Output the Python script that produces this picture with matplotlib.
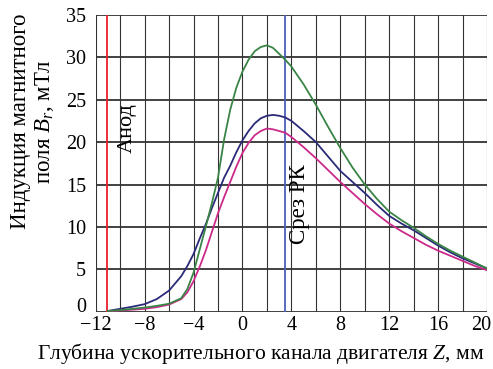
import os
import matplotlib.pyplot as plt
import matplotlib.transforms as mtransforms
from matplotlib import font_manager as fm
import numpy as np


def find_font(stem):
    for f in fm.fontManager.ttflist:
        if os.path.basename(f.fname).startswith(stem):
            return f.fname
    return None


serif_file = find_font('LiberationSerif-Regular')
if serif_file:
    serif_name = fm.FontProperties(fname=serif_file).get_name()
else:
    serif_name = 'DejaVu Serif'

plt.rcParams['font.family'] = [serif_name, 'DejaVu Serif']
plt.rcParams['mathtext.fontset'] = 'custom'
plt.rcParams['mathtext.rm'] = serif_name
plt.rcParams['mathtext.it'] = serif_name + ':italic'


def fp(size):
    if serif_file:
        return fm.FontProperties(fname=serif_file, size=size)
    return fm.FontProperties(family='DejaVu Serif', size=size)


# Z, mm
z = [-11, -10, -9, -8, -7, -6, -5, -4.5, -4, -3.5, -3, -2.5, -2, -1.5, -1, -0.5,
     0, 0.5, 1, 1.5, 2, 2.5, 3, 3.5, 4, 5, 6, 7, 8, 9, 10, 11, 12, 13, 14,
     15, 16, 17, 18, 19, 20]

# B_r, mT
b_green = [0.1, 0.2, 0.35, 0.5, 0.7, 0.95, 1.6, 2.7, 4.6, 7.3, 10.0, 12.8, 15.8,
           20.3, 23.8, 26.4, 28.3, 29.7, 30.7, 31.2, 31.4, 31.1, 30.4, 29.7,
           28.9, 26.8, 24.4, 21.8, 19.3, 17.0, 15.0, 13.3, 11.8, 10.8, 9.9,
           8.9, 8.0, 7.2, 6.5, 5.8, 5.1]
b_navy = [0.1, 0.35, 0.6, 0.9, 1.5, 2.5, 4.2, 5.4, 6.8, 8.6, 10.3, 12.2, 14.0,
          15.8, 17.2, 18.8, 20.2, 21.3, 22.2, 22.8, 23.1, 23.2, 23.1, 22.9,
          22.5, 21.3, 20.0, 18.3, 16.6, 15.3, 14.0, 12.6, 11.3, 10.4, 9.6,
          8.7, 7.8, 7.0, 6.3, 5.7, 5.1]
b_magenta = [0.05, 0.15, 0.25, 0.35, 0.55, 0.85, 1.5, 2.3, 3.6, 5.3, 7.2, 9.4,
             11.6, 13.5, 15.3, 17.1, 18.7, 19.9, 20.8, 21.3, 21.6, 21.5, 21.3,
             21.1, 20.6, 19.4, 18.1, 16.7, 15.3, 14.0, 12.7, 11.5, 10.4, 9.5,
             8.7, 7.9, 7.2, 6.6, 6.0, 5.4, 4.9]

z_anode = -11.1
z_cut = 3.5

xticks = [-12, -8, -4, 0, 4, 8, 12, 16, 20]
xtick_labels = ['\u221212', '\u22128', '\u22124', '0', '4', '8', '12', '16', '20']
yticks = [0, 5, 10, 15, 20, 25, 30, 35]
ytick_labels = ['0', '5', '10', '15', '20', '25', '30', '35']

fig = plt.figure(figsize=(4.93, 3.69), dpi=100)
ax = fig.add_axes([0.194, 0.155, 0.794, 0.805])

ax.set_xlim(-12, 20)
ax.set_ylim(0, 35)

# grid
for gx in np.arange(-12, 21, 2):
    ax.axvline(gx, color='#333333', lw=0.8, zorder=1)
for gy in yticks:
    ax.axhline(gy, color='#333333', lw=1.3, zorder=1)

ax.axvline(z_anode, color='#e8202a', lw=1.3, zorder=2)
ax.axvline(z_cut, color='#4a60b8', lw=1.3, zorder=2)

ax.plot(z, b_navy, color='#2b2a78', lw=1.3, zorder=3)
ax.plot(z, b_magenta, color='#cc2a8a', lw=1.3, zorder=3)
ax.plot(z, b_green, color='#3a8446', lw=1.3, zorder=4)

for s in ax.spines.values():
    s.set_visible(False)

ax.set_xticks(xticks)
ax.set_xticklabels(xtick_labels, fontproperties=fp(14.5))
ax.set_yticks(yticks)
ax.set_yticklabels(ytick_labels, fontproperties=fp(14.5))
ax.tick_params(length=0)
ax.tick_params(axis='x', pad=3)
ax.tick_params(axis='y', pad=7)


def shift(label, dx, dy):
    label.set_transform(label.get_transform() +
                        mtransforms.ScaledTranslation(dx / 100, dy / 100, fig.dpi_scale_trans))


# last x label sits a bit to the left, y "0" a bit higher
shift(ax.get_xticklabels()[-1], -6, 0)
shift(ax.get_yticklabels()[0], 0, 7)

ax.set_xlabel('Глубина ускорительного канала двигателя $\\mathit{Z}$, мм',
              fontproperties=fp(15.5))
ax.xaxis.set_label_coords(0.422, -0.098)
ax.set_ylabel('Индукция магнитного\nполя $\\mathit{B_r}$, мТл',
              fontproperties=fp(16.5), linespacing=1.15)
ax.yaxis.set_label_coords(-0.1, 0.64)

ax.text(-9.44, 21.6, 'Анод', rotation=90, fontproperties=fp(16),
        ha='center', va='center')
ax.text(4.7, 12.7, 'Срез РК', rotation=90, fontproperties=fp(16.5),
        ha='center', va='center')

fig.savefig('out.png', dpi=100)
